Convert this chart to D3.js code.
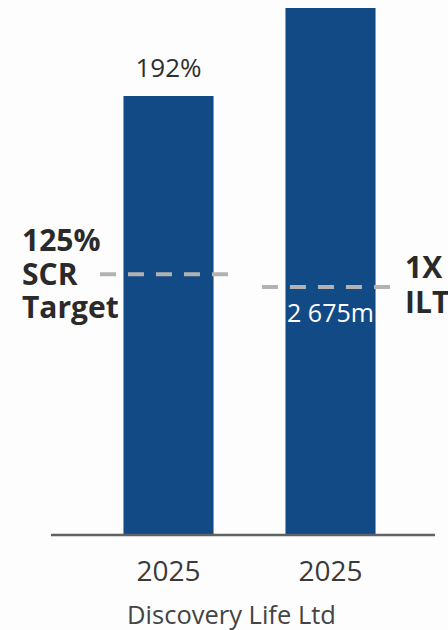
<!DOCTYPE html>
<html>
<head>
<meta charset="utf-8">
<script src="https://cdn.jsdelivr.net/npm/d3@7"></script>
<style>
  html, body { margin: 0; padding: 0; background: #fdfdfd; }
  svg { display: block; }
  text { font-family: "Open Sans", "Noto Sans", sans-serif; }
</style>
</head>
<body>
<svg id="chart" width="448" height="630"></svg>
<script>
// Solvency cover: SCR ratio (%) and own funds against the ILT requirement (R m)
const categories = ["2025", "2025"];
const entityName = "Discovery Life Ltd";
const barValues = [192, 2675];
const barLabels = ["192%", "2 675m"];
const thresholdValues = [125, 1259];
const thresholdLabels = [["125%", "SCR", "Target"], ["1X", "ILT"]];

const W = 448, H = 630;
const axisY = 535;
const barColor = "#124a86";
const dashColor = "#b2b2b2";
const textColor = "#2f2f2f";

const svg = d3.select("#chart");

const x = d3.scaleBand()
  .domain(d3.range(categories.length))
  .range([87.5, 411.5])
  .paddingInner(0.444)
  .paddingOuter(0.222);

// The ratio bar sits on a truncated scale; the own-funds bar on a zero-based one.
const yScales = [
  d3.scaleLinear().domain([27, 192]).range([axisY, 96]),
  d3.scaleLinear().domain([0, 2675]).range([axisY, 8])
];

// bars
svg.append("g").selectAll("rect")
  .data(barValues)
  .join("rect")
  .attr("x", (d, i) => x(i))
  .attr("width", x.bandwidth())
  .attr("y", (d, i) => yScales[i](d))
  .attr("height", (d, i) => axisY - yScales[i](d))
  .attr("fill", barColor);

// baseline axis
const xAxis = d3.axisBottom(x).tickSize(0).tickPadding(24).tickFormat(i => categories[i]);
const axisG = svg.append("g")
  .attr("transform", `translate(0,${axisY})`)
  .call(xAxis);
axisG.select(".domain").remove();
axisG.append("line")
  .attr("x1", 51).attr("x2", 435)
  .attr("y1", 0).attr("y2", 0)
  .attr("stroke", "#5f6163")
  .attr("stroke-width", 2.5);
axisG.selectAll(".tick text")
  .attr("font-size", 28)
  .attr("fill", "#3a3a3a")
  .attr("font-family", "'Open Sans', sans-serif")
  .attr("dy", 0)
  .attr("y", 46);

// threshold dashed lines
svg.append("g").selectAll("line")
  .data(thresholdValues)
  .join("line")
  .attr("x1", (d, i) => x(i) - 23.5)
  .attr("x2", (d, i) => x(i) - 23.5 + 128)
  .attr("y1", (d, i) => yScales[i](d))
  .attr("y2", (d, i) => yScales[i](d))
  .attr("stroke", dashColor)
  .attr("stroke-width", 4)
  .attr("stroke-dasharray", "16 12");

// value label above the ratio bar
svg.append("text")
  .attr("x", x(0) + x.bandwidth() / 2)
  .attr("y", yScales[0](barValues[0]) - 19)
  .attr("text-anchor", "middle")
  .attr("font-size", 26)
  .attr("fill", textColor)
  .text(barLabels[0]);

// value label inside the own-funds bar, under the ILT line
svg.append("text")
  .attr("x", x(1) + x.bandwidth() / 2)
  .attr("y", yScales[1](thresholdValues[1]) + 35)
  .attr("text-anchor", "middle")
  .attr("font-size", 25)
  .attr("fill", "#ffffff")
  .text(barLabels[1]);

// threshold captions
const leftCap = svg.append("text")
  .attr("x", 22)
  .attr("y", 251)
  .attr("font-size", 30)
  .attr("font-weight", 700)
  .attr("fill", "#2a2a2a");
leftCap.selectAll("tspan")
  .data(thresholdLabels[0])
  .join("tspan")
  .attr("x", 22)
  .attr("dy", (d, i) => i === 0 ? 0 : 33.5)
  .text(d => d);

const rightCap = svg.append("text")
  .attr("x", 405)
  .attr("y", 278)
  .attr("font-size", 30)
  .attr("font-weight", 700)
  .attr("fill", "#2a2a2a");
rightCap.selectAll("tspan")
  .data(thresholdLabels[1])
  .join("tspan")
  .attr("x", 405)
  .attr("dy", (d, i) => i === 0 ? 0 : 35)
  .text(d => d);

// entity name
svg.append("text")
  .attr("x", 231.5)
  .attr("y", 624)
  .attr("text-anchor", "middle")
  .attr("font-size", 25.5)
  .attr("fill", "#444444")
  .text(entityName);
</script>
</body>
</html>
